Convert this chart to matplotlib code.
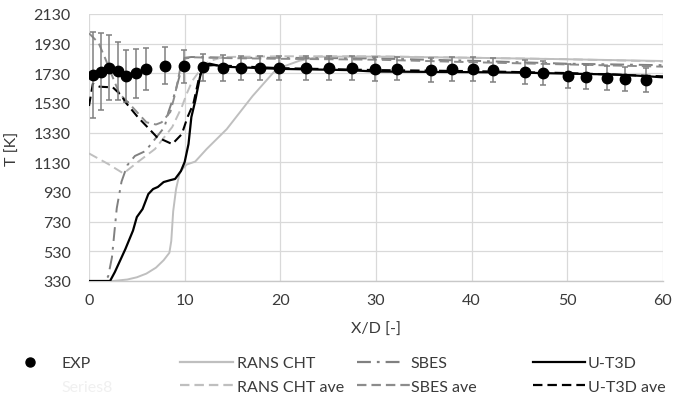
import matplotlib
matplotlib.use("Agg")
import matplotlib.pyplot as plt
from matplotlib.lines import Line2D

plt.rcParams['font.family'] = ['Lato', 'DejaVu Sans']
plt.rcParams['font.size'] = 11.5
plt.rcParams['lines.scale_dashes'] = False

# ---------------- data ----------------
exp_x = [0.4, 1.3, 2.1, 3.0, 3.9, 4.9, 6.0, 7.9, 9.9, 11.9, 14.0, 15.9, 17.9, 19.9,
         22.7, 25.1, 27.5, 29.9, 32.2, 35.8, 37.9, 40.1, 42.2, 45.6, 47.5, 50.1,
         51.9, 54.1, 56.0, 58.2]
exp_y = [1717, 1740, 1767, 1744, 1710, 1732, 1759, 1781, 1777, 1770, 1766, 1766,
         1766, 1766, 1766, 1766, 1766, 1759, 1762, 1752, 1759, 1759, 1752, 1739,
         1732, 1712, 1705, 1699, 1692, 1685]
exp_err = [290, 260, 220, 195, 175, 165, 140, 125, 110, 90, 85, 80, 80, 80,
           80, 80, 80, 80, 80, 80, 80, 80, 80, 80, 80, 80, 80, 80, 80, 80]

rans_x = [0, 2.5, 4, 5, 6, 7, 7.8, 8.4, 8.6, 8.8, 9.1, 9.5, 10.2, 11.1, 12.3, 14.4,
          17.1, 19.6, 22.0, 24, 30, 40, 50, 60]
rans_y = [330, 330, 340, 355, 380, 420, 470, 520, 600, 800, 950, 1065, 1115, 1135,
          1220, 1354, 1577, 1759, 1815, 1842, 1843, 1835, 1825, 1813]

rans_ave_x = [0, 2.0, 3.6, 5.1, 6.9, 8.7, 9.7, 10.2, 10.8, 11.6, 12.5, 14, 20, 30,
              40, 50, 60]
rans_ave_y = [1190, 1119, 1055, 1132, 1220, 1368, 1503, 1590, 1680, 1750, 1810,
              1840, 1845, 1845, 1835, 1825, 1810]

sbes_x = [0, 1.6, 2.0, 2.4, 2.9, 3.4, 4.0, 4.8, 5.9, 6.9, 7.9, 8.3, 9.0, 9.5, 10.0,
          10.7, 15, 20, 30, 40, 50, 60]
sbes_y = [330, 330, 360, 490, 820, 1000, 1110, 1173, 1206, 1287, 1368, 1469, 1600,
          1720, 1835, 1840, 1835, 1835, 1830, 1815, 1795, 1785]

sbes_ave_x = [0, 1.0, 1.7, 2.5, 3.2, 4.0, 5.0, 6.0, 7.0, 7.6, 8.5, 9.0, 9.5, 10.0,
              11, 15, 20, 30, 40, 50, 60]
sbes_ave_y = [2000, 1935, 1830, 1700, 1590, 1540, 1470, 1400, 1385, 1400, 1470,
              1590, 1750, 1830, 1838, 1832, 1828, 1822, 1805, 1790, 1775]

ut3d_x = [0, 2.2, 2.7, 3.8, 4.6, 5.0, 5.6, 6.2, 6.7, 7.2, 7.8, 8.5, 9.0, 9.6, 10.0,
          10.4, 10.7, 11.1, 11.6, 11.9, 12.6, 14, 20, 27, 30, 35, 40, 45, 50, 55,
          58, 60]
ut3d_y = [330, 330, 390, 545, 670, 761, 815, 916, 950, 964, 997, 1010, 1018, 1070,
          1132, 1253, 1435, 1543, 1705, 1780, 1795, 1775, 1760, 1752, 1742, 1740,
          1738, 1735, 1728, 1722, 1712, 1703]

ut3d_ave_x = [0, 0.4, 1.1, 2.5, 3.4, 3.8, 5.1, 6.1, 7.1, 8.7, 9.7, 10.3, 10.9, 11.5,
              12.0, 13, 20, 30, 40, 50, 60]
ut3d_ave_y = [1510, 1660, 1640, 1635, 1580, 1536, 1435, 1368, 1300, 1253, 1320,
              1435, 1523, 1700, 1780, 1785, 1765, 1752, 1745, 1732, 1710]

x_ticks = [0, 10, 20, 30, 40, 50, 60]
y_ticks = [330, 530, 730, 930, 1130, 1330, 1530, 1730, 1930, 2130]

labels = ["EXP", "Series8", "RANS CHT", "RANS CHT ave", "SBES", "SBES ave",
          "U-T3D", "U-T3D ave"]

# ---------------- styles ----------------
LIGHT = '#bfbfbf'
MID = '#808080'
MID2 = '#8c8c8c'
DASH = (0, (6.8, 3.6))
DASHDOT = (0, (10, 4.3, 2, 4.3))
TXT = '#3a3a3a'

W, H = 673, 406
fig = plt.figure(figsize=(W / 100, H / 100), dpi=100)
ax = fig.add_axes([89 / W, (H - 282) / H, (663 - 89) / W, (282 - 15) / H])

ax.plot(rans_x, rans_y, color=LIGHT, lw=1.4, zorder=3)
ax.plot(sbes_x, sbes_y, color=MID, lw=1.4, linestyle=DASHDOT, zorder=3)
ax.plot(ut3d_x, ut3d_y, color='black', lw=1.6, zorder=4)
ax.plot(rans_ave_x, rans_ave_y, color=LIGHT, lw=1.4, linestyle=DASH, zorder=3)
ax.plot(sbes_ave_x, sbes_ave_y, color=MID2, lw=1.4, linestyle=DASH, zorder=3)
ax.plot(ut3d_ave_x, ut3d_ave_y, color='black', lw=1.5, linestyle=DASH, zorder=4)

ax.errorbar(exp_x, exp_y, yerr=exp_err, fmt='o', color='black', markersize=7.5,
            ecolor=MID, elinewidth=1.1, capsize=2.5, capthick=1.1, zorder=5)

ax.set_xlim(0, 60)
ax.set_ylim(330, 2130)
ax.set_xticks(x_ticks)
ax.set_yticks(y_ticks)
ax.grid(True, color='#d9d9d9', lw=0.9, zorder=0)
ax.set_axisbelow(True)
for s in ['top', 'right', 'left']:
    ax.spines[s].set_visible(False)
ax.spines['bottom'].set_color('#c8c8c8')
ax.spines['bottom'].set_linewidth(1.0)
ax.tick_params(axis='both', length=0, colors=TXT, labelsize=11.5)
ax.tick_params(axis='x', pad=9)
ax.tick_params(axis='y', pad=13)
ax.set_xlabel("X/D [-]", color=TXT, fontsize=11.5, labelpad=10)
ax.set_ylabel("T [K]", color=TXT, fontsize=11.5, labelpad=10)

# ---------------- legend ----------------
h_exp = Line2D([], [], marker='o', linestyle='none', color='black', markersize=6.5)
h_s8 = Line2D([], [], linestyle='none', color='white')
h_rans = Line2D([], [], color=LIGHT, lw=1.6)
h_rans_ave = Line2D([], [], color=LIGHT, lw=1.6, linestyle=DASH)
h_sbes = Line2D([], [], color=MID, lw=1.6, linestyle=(0, (10, 4.3, 2, 4.3, 10, 20)))
h_sbes_ave = Line2D([], [], color=MID2, lw=1.6, linestyle=DASH)
h_ut = Line2D([], [], color='black', lw=1.6)
h_ut_ave = Line2D([], [], color='black', lw=1.6, linestyle=DASH)

ymid = 1 - 376 / H
cols = [
    ([h_exp, h_s8], labels[0:2], 22, 1.0, 1.5),
    ([h_rans, h_rans_ave], labels[2:4], 180, 3.3, 0.25),
    ([h_sbes, h_sbes_ave], labels[4:6], 357, 3.3, 0.05),
    ([h_ut, h_ut_ave], labels[6:8], 533, 3.25, 0.2),
]
for hs, ls, x0, hl, htp in cols:
    leg = fig.legend(hs, ls, loc='center left', bbox_to_anchor=(x0 / W, ymid),
                     frameon=False, borderpad=0, borderaxespad=0, handlelength=hl,
                     handletextpad=htp, labelspacing=0.6, fontsize=11.5)
    for t in leg.get_texts():
        t.set_color(TXT)
    if ls[1] == "Series8":
        leg.get_texts()[1].set_color('#f0f0f0')

fig.savefig("out.png", dpi=100)
